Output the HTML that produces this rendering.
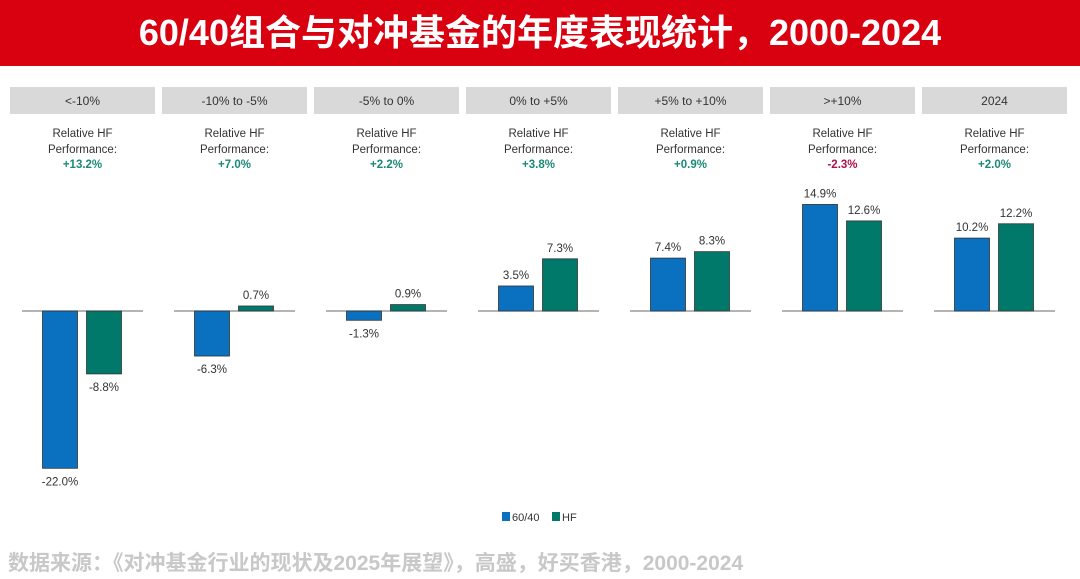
<!DOCTYPE html>
<html><head><meta charset="utf-8"><style>
body{margin:0;width:1080px;height:579px;background:#fff;position:relative;overflow:hidden;font-family:"Liberation Sans","Noto Sans CJK SC",sans-serif}
.title{position:absolute;left:0;top:0;width:1080px;height:66px;background:#d9000f;color:#fff;font-weight:bold;font-size:36px;text-align:center;line-height:66px}
.src{position:absolute;left:8px;top:547px;font-size:21px;font-weight:bold;color:#c8c8c8}
</style></head><body>
<div class="title">60/40组合与对冲基金的年度表现统计，2000-2024</div>
<svg id="c" width="1080" height="579" style="position:absolute;left:0;top:0"></svg>
<div class="src">数据来源：《对冲基金行业的现状及2025年展望》，高盛，好买香港，2000-2024</div>
<script>
const categories=["<-10%","-10% to -5%","-5% to 0%","0% to +5%","+5% to +10%",">+10%","2024"];
const v6040=[-22.0,-6.3,-1.3,3.5,7.4,14.9,10.2];
const vHF=[-8.8,0.7,0.9,7.3,8.3,12.6,12.2];
const relPerf=["+13.2%","+7.0%","+2.2%","+3.8%","+0.9%","-2.3%","+2.0%"];
const svg=document.getElementById('c');const NS='http://www.w3.org/2000/svg';
const base=311,k=7.15;
function y(v){return base-v*k;}
function px(i){return 10+i*152;}
function mk(t,a,txt){const e=document.createElementNS(NS,t);for(const key in a)e.setAttribute(key,a[key]);if(txt!=null)e.textContent=txt;svg.appendChild(e);return e;}
categories.forEach((c,i)=>{
 const x0=px(i),cx=x0+72.5;
 let e=mk('rect',{x:x0,y:87,width:145,height:27,fill:'#d9d9d9'});
 
 
 e=mk('text',{x:cx,y:105,'text-anchor':'middle','font-size':12,fill:'#333'},c);
 
 
 mk('text',{x:cx,y:137,'text-anchor':'middle','font-size':11.5,fill:'#333'},'Relative HF');
 mk('text',{x:cx,y:153,'text-anchor':'middle','font-size':11.5,fill:'#333'},'Performance:');
 e=mk('text',{x:cx,y:168,'text-anchor':'middle','font-size':11.5,'font-weight':'bold',fill:relPerf[i][0]=='-'?'#b0104a':'#1a8a78'},relPerf[i]);
 
 
 e=mk('line',{x1:x0+12,x2:x0+133,y1:base,y2:base,stroke:'#888','stroke-width':1.2});
 
 
 [[v6040[i],-40,'#0a70c0','bar-6040'],[vHF[i],4,'#00796b','bar-hf']].forEach(([v,off,col,nm])=>{
  const yt=Math.min(y(v),base),h=Math.abs(y(v)-base);
  const b=mk('rect',{x:cx+off,y:yt,width:35,height:h,fill:col,stroke:'#333','stroke-width':0.8});
  
  
  const ly=v>=0?y(v)-7:y(v)+17;
  const t=mk('text',{x:cx+off+17.5,y:ly,'text-anchor':'middle','font-size':11.5,fill:'#333'},v.toFixed(1)+'%');
  
  
 });
});
let l=mk('rect',{x:502,y:512,width:8,height:9,fill:'#0a70c0'});


l=mk('text',{x:512,y:521,'font-size':11,fill:'#333'},'60/40');


l=mk('rect',{x:552,y:512,width:8,height:9,fill:'#00796b'});


l=mk('text',{x:562,y:521,'font-size':11,fill:'#333'},'HF');


</script>
</body></html>
